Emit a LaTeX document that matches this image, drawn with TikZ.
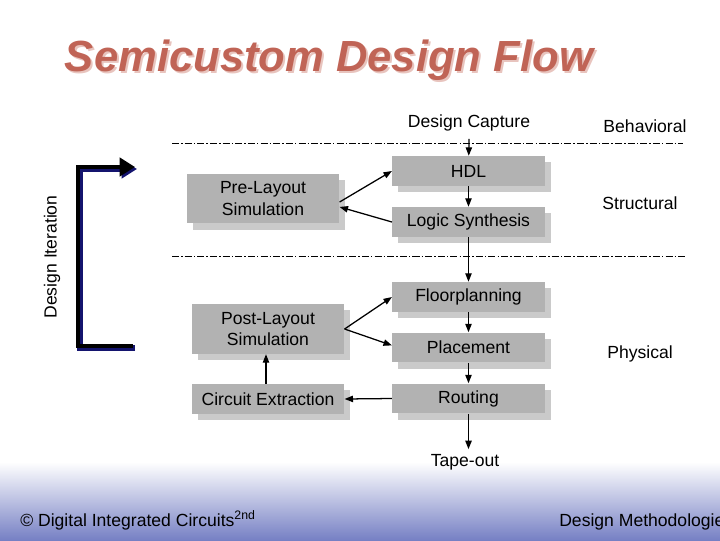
\documentclass[tikz,border=0pt]{standalone}
\usepackage{fontspec}
\setmainfont{Liberation Sans}
\usetikzlibrary{arrows.meta,shadows,calc}
\definecolor{boxgray}{RGB}{178,178,178}
\definecolor{shadegray}{RGB}{202,202,202}
\definecolor{titlered}{RGB}{192,100,86}
\definecolor{titleshade}{RGB}{232,196,190}
\definecolor{footblue}{RGB}{118,128,196}
\definecolor{iternavy}{RGB}{20,20,110}
\tikzset{
  flowbox/.style={fill=boxgray,inner sep=0pt,minimum width=108.5pt,minimum height=21.3pt,
    align=center,font=\fontsize{12.5}{15.5}\selectfont,
    general shadow={fill=shadegray,shadow xshift=4.3pt,shadow yshift=-4.3pt}},
  label/.style={font=\fontsize{12.5}{15.5}\selectfont},
  arr/.style={-{Triangle[length=6pt,width=4.5pt]},line width=0.9pt},
  level/.style={line width=0.6pt,dash pattern=on 5pt off 1.5pt on 1pt off 1.5pt}
}
\begin{document}
\begin{tikzpicture}[x=0.025cm,y=-0.025cm]
    \useasboundingbox (0,0) rectangle (720,540);
    \clip (0,0) rectangle (720,540);
    \shade[top color=white,bottom color=footblue] (0,462) rectangle (720,540);
    % title
    \node[anchor=base,text=titleshade,font=\fontsize{31}{36}\bfseries\itshape] at (331,73) {Semicustom Design Flow};
    \node[anchor=base,text=titlered,font=\fontsize{31}{36}\bfseries\itshape] (title) at (329,71) {Semicustom Design Flow};
    % abstraction levels
    \draw[level] (172,143) -- (683,143);
    \draw[level] (172,256) -- (685,256);
    \node[label] (behav) at (645,126) {Behavioral};
    \node[label] (struct) at (640,203) {Structural};
    \node[label] (phys) at (640,354) {Physical};
    % flow
    \node[label] (capture) at (469,123) {Design Capture};
    \node[flowbox] (hdl) at (468.5,171) {HDL};
    \node[flowbox] (synth) at (468.5,222) {Logic Synthesis};
    \node[flowbox] (floor) at (468.5,297) {Floorplanning};
    \node[flowbox] (place) at (468.5,347.5) {Placement};
    \node[flowbox] (route) at (468.5,398.5) {Routing};
    \node[label] (tapeout) at (465,462) {Tape-out};
    \node[flowbox,minimum height=35.5pt] (prelay) at (263,198.5) {Pre-Layout\\Simulation};
    \node[flowbox,minimum height=35.5pt] (postlay) at (268,329) {Post-Layout\\Simulation};
    \node[flowbox] (extract) at (268,399) {Circuit Extraction};
    \draw[arr] ([yshift=-2pt]capture.south) -- (hdl);
    \draw[arr] (hdl) -- (synth);
    \draw[arr] (synth) -- (floor);
    \draw[arr] (floor) -- (place);
    \draw[arr] (place) -- (route);
    \draw[arr] (route.south) -- (route.south |- tapeout.north);
    \draw[arr] (route.west) -- (extract.east);
    \draw[arr] (extract.north -| 266,0) -- (postlay.south -| 266,0);
    \draw[arr] (postlay.east) -- (floor.west);
    \draw[arr] (postlay.east) -- ([yshift=1.5pt]place.west);
    \draw[arr] ([yshift=-2.5pt]prelay.east) -- (hdl.west);
    \draw[arr] (synth.west) -- ([yshift=-6pt]prelay.east);
    % design iteration
    \coordinate (ibot) at (133,346);
    \coordinate (itop) at (135,167);
    \draw[iternavy,line width=4pt,-{Triangle[length=11pt,width=13pt]}] ($(ibot)+(2,2)$) -- ($(78,346)+(2,2)$) -- ($(78,167)+(2,2)$) -- ($(itop)+(2,2)$);
    \draw[line width=3.5pt,-{Triangle[length=11pt,width=13pt]}] (ibot) -- (78,346) -- (78,167) -- (itop);
    \node[label,rotate=90] (iter) at (52,257) {Design Iteration};
    % footer
    \node[anchor=base west,inner sep=0pt,font=\fontsize{12.5}{15}\selectfont] (book) at (20,526) {\textcopyright{} Digital Integrated Circuits\textsuperscript{2nd}};
    \node[anchor=base west,inner sep=0pt,font=\fontsize{12.5}{15}\selectfont] (chapter) at (559,526) {Design Methodologies};
\end{tikzpicture}
\end{document}
